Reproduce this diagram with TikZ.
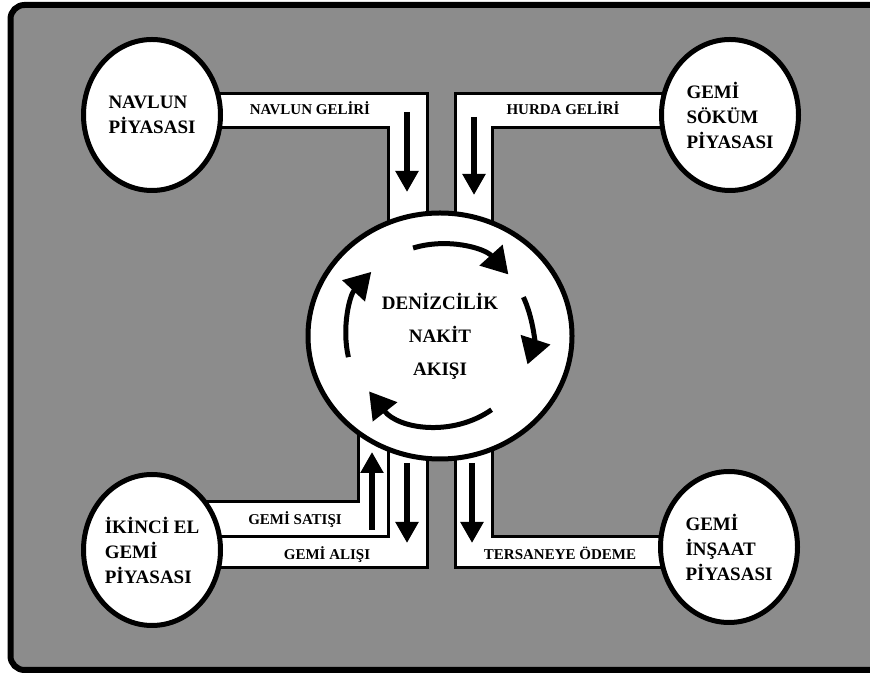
\documentclass[tikz,border=0pt]{standalone}
\usepackage{fontspec}
\setmainfont{Liberation Serif}
\usepackage{tikz}
\usetikzlibrary{shapes.geometric,arrows.meta,positioning}
\definecolor{stipple}{HTML}{8C8C8C}

\begin{document}
\begin{tikzpicture}[x=1pt,y=1pt,
  mkt/.style={draw,ellipse,line width=5pt,fill=white,inner sep=0pt,
              minimum width=137pt,minimum height=151pt,align=left,
              font=\fontsize{19}{25}\selectfont\bfseries},
  chan/.style={draw,line width=3pt,fill=white,line join=miter},
  lbl/.style={anchor=base,inner sep=0pt,font=\fontsize{15}{18}\selectfont\bfseries},
  flow/.style={-{Triangle[length=21pt,width=22pt]},line width=6pt},
  turn/.style={-{Triangle[length=26pt,width=30pt]},line width=5pt}
]
\useasboundingbox (0,0) rectangle (870,674);
\draw[line width=6pt,fill=stipple,rounded corners=14pt] (10.5,4) rectangle (890,669);

\draw[chan] (150,580) -- (427,580) -- (427,338) -- (388,338) -- (388,546) -- (150,546) -- cycle;
\draw[chan] (455,338) -- (455,580) -- (730,580) -- (730,546) -- (492,546) -- (492,338) -- cycle;
\draw[chan] (150,172) -- (358,172) -- (358,338) -- (427,338) -- (427,106) -- (150,106) -- cycle;
\draw[line width=3pt] (150,137) -- (388,137) -- (388,338);
\draw[chan] (455,338) -- (455,106) -- (729,106) -- (729,137) -- (492,137) -- (492,338) -- cycle;

\node[mkt] (navlun) at (152,559) {NAVLUN\\PİYASASI};
\node[mkt] (sokum) at (730,559) {GEMİ\\SÖKÜM\\PİYASASI};
\node[mkt] (ikinciel) at (152,124) {İKİNCİ EL\\GEMİ\\PİYASASI};
\node[mkt] (insaat) at (729,127) {GEMİ\\İNŞAAT\\PİYASASI};
\node[mkt,minimum width=264pt,minimum height=246pt,align=center,
      font=\fontsize{19}{33}\selectfont\bfseries] (nakit) at (440,338) {DENİZCİLİK\\NAKİT\\AKIŞI};

\node[lbl] (navgelir) at (310,559) {NAVLUN GELİRİ};
\node[lbl] (hurgelir) at (563,559) {HURDA GELİRİ};
\node[lbl] (satis) at (295,149) {GEMİ SATIŞI};
\node[lbl] (alis) at (327,114) {GEMİ ALIŞI};
\node[lbl] (odeme) at (560,114) {TERSANEYE ÖDEME};

\coordinate (nav-a) at (407,562);
\coordinate (nav-b) at (407,482);
\coordinate (hur-a) at (474,557);
\coordinate (hur-b) at (474,479);
\coordinate (sat-a) at (372,144);
\coordinate (sat-b) at (372,222);
\coordinate (ali-a) at (407,211);
\coordinate (ali-b) at (407,131);
\coordinate (ode-a) at (472,211);
\coordinate (ode-b) at (472,131);
\draw[flow] (nav-a) -- (nav-b);
\draw[flow] (hur-a) -- (hur-b);
\draw[flow] (sat-a) -- (sat-b);
\draw[flow] (ali-a) -- (ali-b);
\draw[flow] (ode-a) -- (ode-b);

\draw[turn] ([shift={(107:92)}]nakit.center) arc[start angle=107,end angle=42,radius=92];
\draw[turn] ([shift={(25:92)}]nakit.center) arc[start angle=25,end angle=-18,radius=92];
\draw[turn] ([shift={(-55:90)}]nakit.center) arc[start angle=-55,end angle=-142,radius=90];
\draw[turn] ([shift={(193:94)}]nakit.center) arc[start angle=193,end angle=137,radius=94];
\end{tikzpicture}
\end{document}
